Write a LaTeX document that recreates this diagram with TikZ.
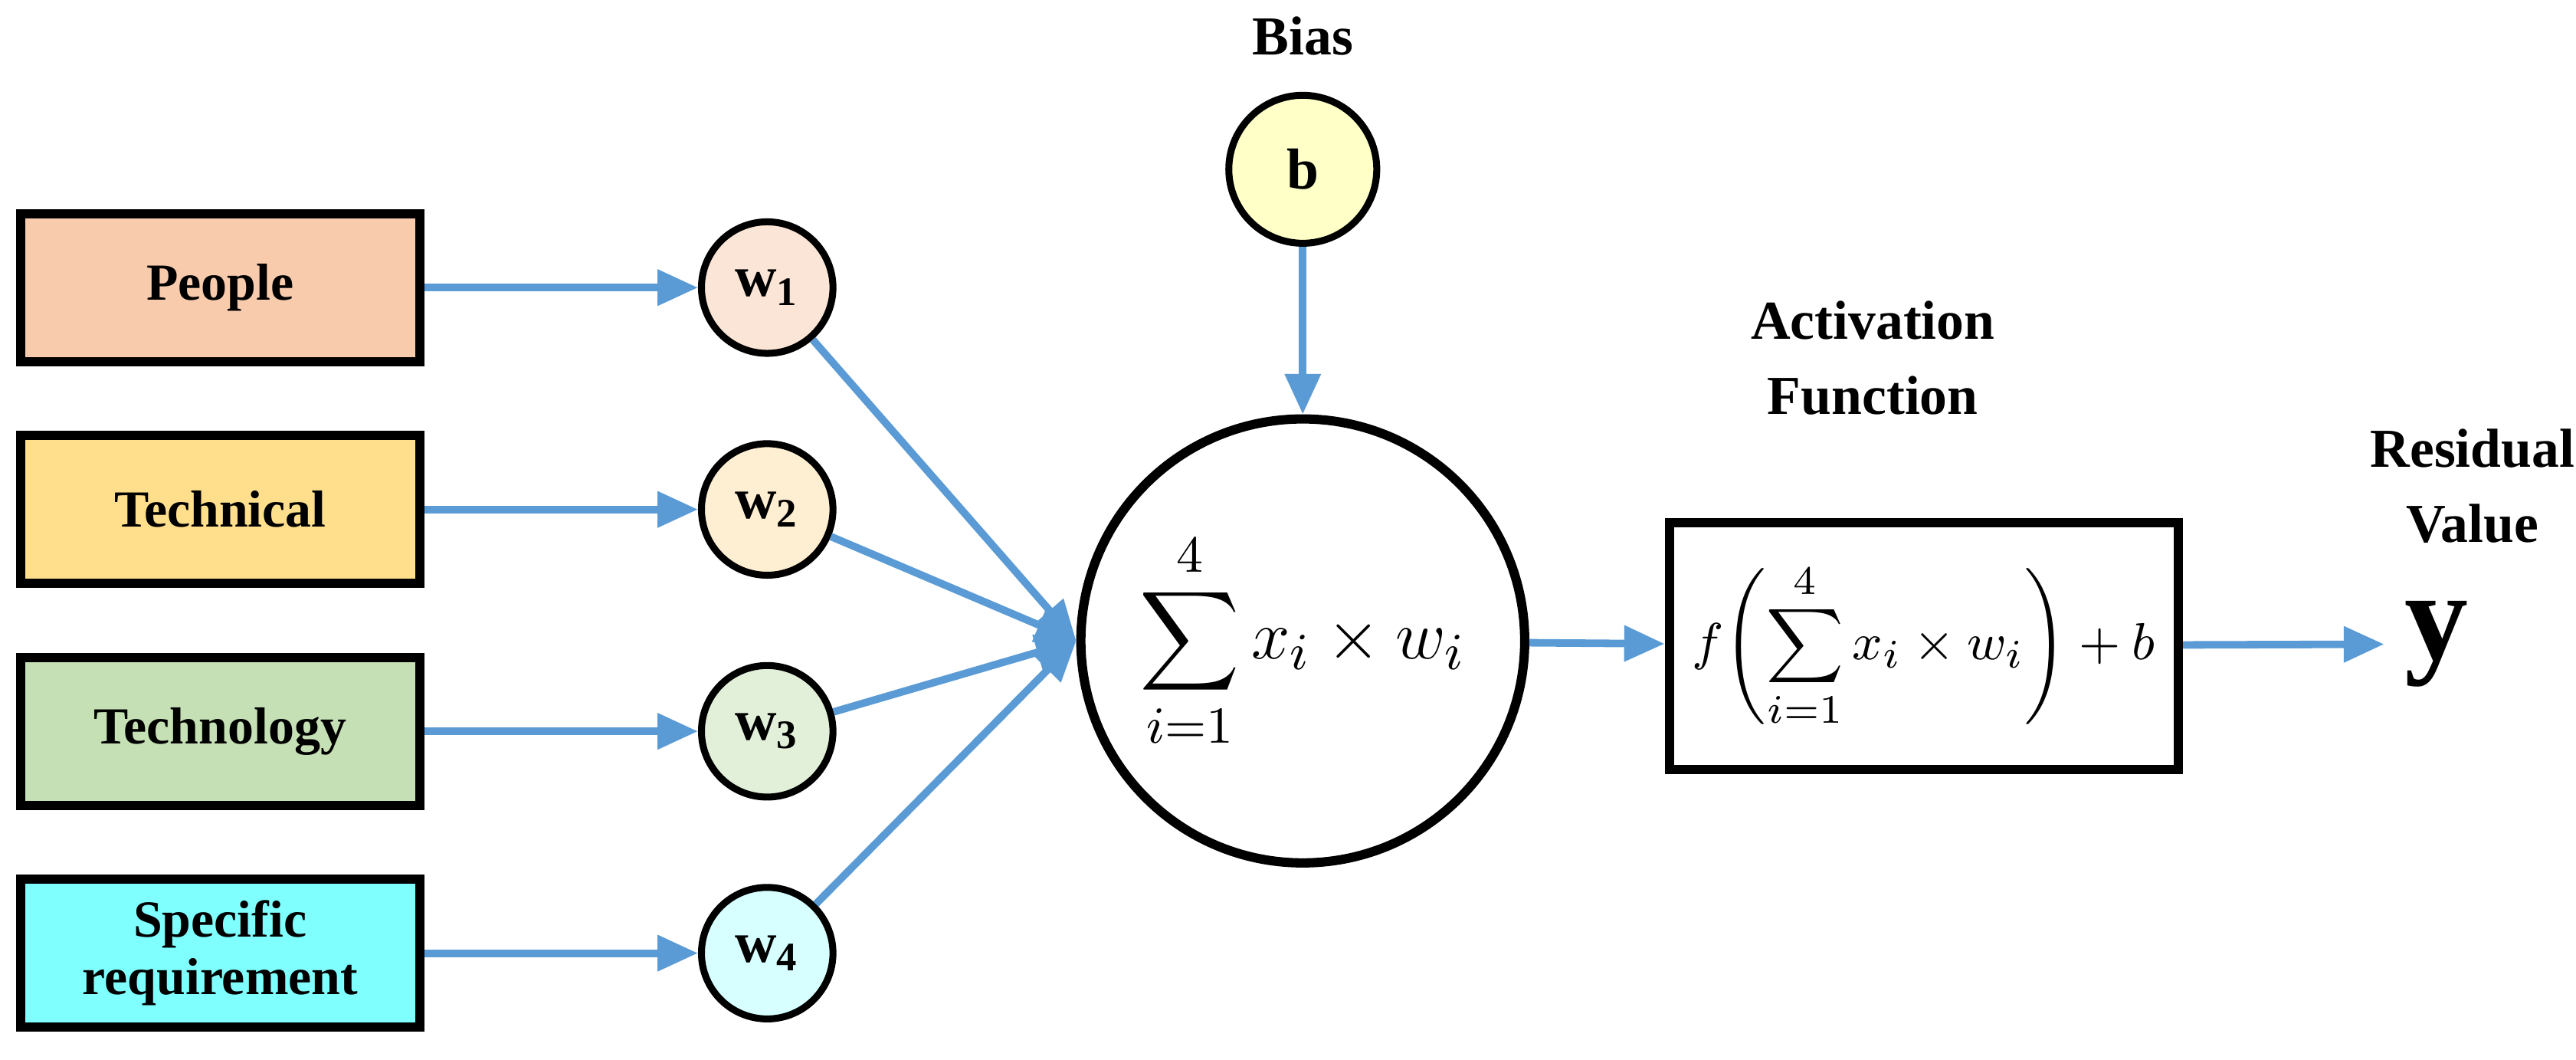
\documentclass[tikz,border=0pt]{standalone}
\usepackage{fontspec}
\setmainfont{Liberation Serif}
\usepackage{amsmath}
\usetikzlibrary{arrows.meta}
\definecolor{arr}{HTML}{5B9BD5}
\begin{document}
\begin{tikzpicture}[x=0.01cm,y=-0.01cm,
 box/.style={draw=black,line width=1.6pt,minimum width=2.43cm,minimum height=0.9cm,font=\fontsize{9}{10}\selectfont\bfseries,align=center},
 wc/.style={circle,draw=black,line width=1.2pt,minimum size=0.8cm,inner sep=0pt,font=\fontsize{10}{10}\selectfont\bfseries},
 lab/.style={font=\fontsize{9.5}{13}\selectfont\bfseries,align=center},
 ar/.style={draw=arr,line width=1.3pt,-{Triangle[length=7pt,width=6pt]}}]
\useasboundingbox (0,0) rectangle (1568,645);
\node[box,fill={rgb,255:red,248;green,203;blue,173}] (p) at (134,175) {People};
\node[box,fill={rgb,255:red,255;green,222;blue,140}] (t) at (134,310) {Technical};
\node[box,fill={rgb,255:red,197;green,224;blue,180}] (tg) at (134,445) {Technology};
\node[box,fill={rgb,255:red,128;green,255;blue,255}] (s) at (134,580) {Specific\\requirement};
\node[wc,fill={rgb,255:red,251;green,229;blue,214}] (w1) at (467,175) {w\textsubscript{1}};
\node[wc,fill={rgb,255:red,255;green,239;blue,210}] (w2) at (467,310) {w\textsubscript{2}};
\node[wc,fill={rgb,255:red,226;green,240;blue,217}] (w3) at (467,445) {w\textsubscript{3}};
\node[wc,fill={rgb,255:red,215;green,255;blue,255}] (w4) at (467,580) {w\textsubscript{4}};
\node[wc,minimum size=0.9cm,fill={rgb,255:red,255;green,255;blue,200}] (b) at (793,103) {b};
\node[lab] (bl) at (793,22) {Bias};
\node[circle,draw=black,line width=1.6pt,minimum size=2.7cm,inner sep=0pt] (S) at (793,390)
 {\fontsize{13}{13}\selectfont$\displaystyle\sum_{i=1}^{4} x_i \times w_i$};
\node[draw=black,line width=1.6pt,minimum width=3.02cm,minimum height=1.5cm,inner xsep=4pt] (A) at (1171,393)
 {\fontsize{9.5}{9.5}\selectfont$\displaystyle f\!\left(\sum_{i=1}^{4} x_i \times w_i\right)+b$};
\node[lab] (al) at (1140,218) {Activation\\Function};
\node[lab] (rl) at (1505,296) {Residual\\Value};
\node[font=\fontsize{22}{22}\selectfont\bfseries] (y) at (1483,392) {y};
\draw[ar] (p) -- (w1); \draw[ar] (t) -- (w2); \draw[ar] (tg) -- (w3); \draw[ar] (s) -- (w4);
\foreach \w in {w1,w2,w3,w4} \draw[ar] (\w) -- (S.west);
\draw[ar] (b) -- (S);
\draw[ar] (S) -- (A);
\draw[ar] (A) -- (y.west);
\end{tikzpicture}
\end{document}
